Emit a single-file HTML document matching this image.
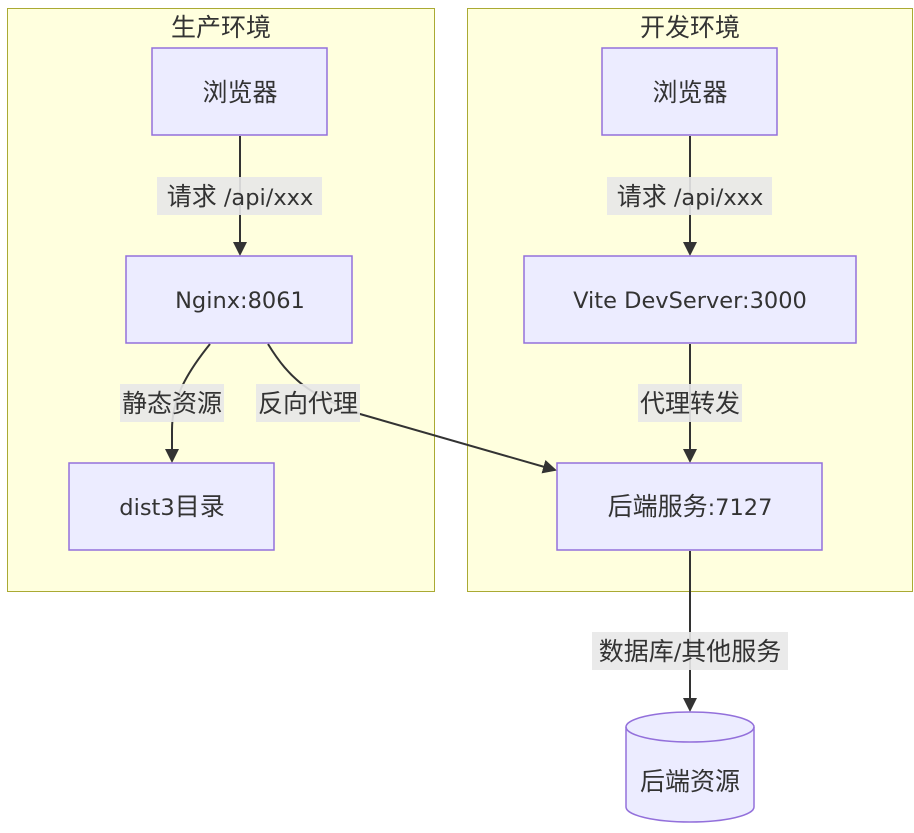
<!DOCTYPE html>
<html><head><meta charset="utf-8"><style>
html,body{margin:0;padding:0;background:#fff;}
text{font-family:"DejaVu Sans","Noto Sans CJK SC",sans-serif;fill:#333;font-size:22.5px;}
.c{font-family:"Noto Sans CJK SC",sans-serif;font-size:25px;}
</style></head><body>
<svg width="914" height="828" viewBox="0 0 914 828" xmlns="http://www.w3.org/2000/svg">
<defs><marker id="a" markerWidth="14" markerHeight="14" refX="12" refY="7" orient="auto" markerUnits="userSpaceOnUse"><path d="M0,0 L14,7 L0,14 z" fill="#333"/></marker></defs>
<rect x="7.5" y="8.5" width="427" height="583" fill="#ffffde" stroke="#aaaa33"/>
<rect x="467.5" y="8.5" width="445" height="583" fill="#ffffde" stroke="#aaaa33"/>
<text x="221" y="36" class="c" text-anchor="middle">生产环境</text>
<text x="690" y="36" class="c" text-anchor="middle">开发环境</text>
<g fill="none" stroke="#333" stroke-width="2">
<path d="M240 136 V254" marker-end="url(#a)"/>
<path d="M690 136 V254" marker-end="url(#a)"/>
<path d="M690 344 V461" marker-end="url(#a)"/>
<path d="M690 551 V710" marker-end="url(#a)"/>
<path d="M210 344 C185 375 172 400 172 430 V461" marker-end="url(#a)"/>
<path d="M268 344 C290 380 310 395 360 414 L555 470" marker-end="url(#a)"/>
</g>
<g fill="#ececff" stroke="#9370db" stroke-width="1.5">
<rect x="152" y="48" width="175" height="87"/>
<rect x="602" y="48" width="175" height="87"/>
<rect x="126" y="256" width="226" height="87"/>
<rect x="524" y="256" width="332" height="87"/>
<rect x="69" y="463" width="205" height="87"/>
<rect x="557" y="463" width="265" height="87"/>
<path d="M626 727 A64 15 0 0 1 754 727 V807 A64 15 0 0 1 626 807 Z"/>
<path d="M626 727 A64 15 0 0 0 754 727" fill="none"/>
</g>
<g fill="#e8e8e8" opacity="0.9">
<rect x="157" y="177" width="165" height="38"/>
<rect x="607" y="177" width="165" height="38"/>
<rect x="120" y="384" width="104" height="38"/>
<rect x="256" y="384" width="104" height="38"/>
<rect x="638" y="384" width="104" height="38"/>
<rect x="592" y="632" width="196" height="38"/>
</g>
<g text-anchor="middle">
<text x="240" y="205"><tspan class="c">请求</tspan> /api/xxx</text>
<text x="690" y="205"><tspan class="c">请求</tspan> /api/xxx</text>
<text x="172" y="412" class="c">静态资源</text>
<text x="308" y="412" class="c">反向代理</text>
<text x="690" y="412" class="c">代理转发</text>
<text x="690" y="660"><tspan class="c">数据库</tspan>/<tspan class="c">其他服务</tspan></text>
<text x="240" y="101" class="c">浏览器</text>
<text x="690" y="101" class="c">浏览器</text>
<text x="240" y="308">Nginx:8061</text>
<text x="690" y="308">Vite DevServer:3000</text>
<text x="172" y="515">dist3<tspan class="c">目录</tspan></text>
<text x="690" y="515"><tspan class="c">后端服务</tspan>:7127</text>
<text x="690" y="790" class="c">后端资源</text>
</g>
</svg>
</body></html>
